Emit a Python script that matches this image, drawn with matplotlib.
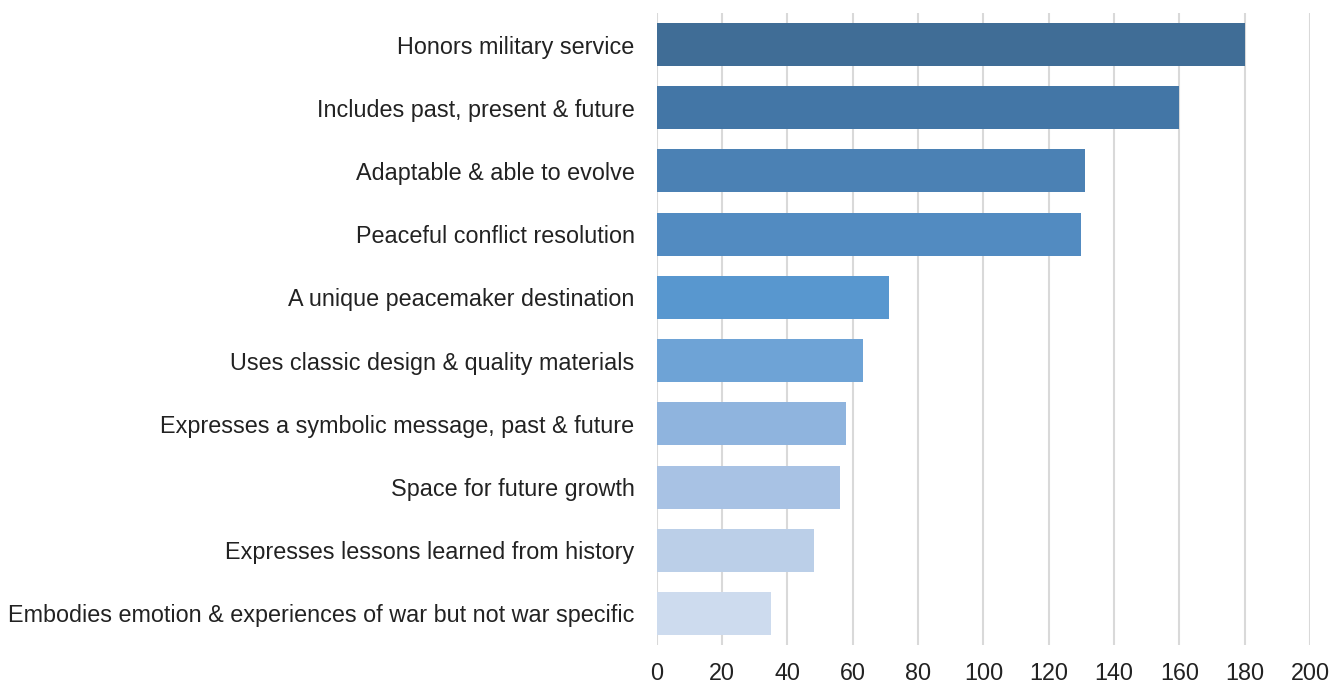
import matplotlib.pyplot as plt
import numpy as np

plt.rcParams['font.family'] = ['Liberation Sans', 'DejaVu Sans']

categories = [
    'Honors military service',
    'Includes past, present & future',
    'Adaptable & able to evolve',
    'Peaceful conflict resolution',
    'A unique peacemaker destination',
    'Uses classic design & quality materials',
    'Expresses a symbolic message, past & future',
    'Space for future growth',
    'Expresses lessons learned from history',
    'Embodies emotion & experiences of war but not war specific',
]
values = [180, 160, 131, 130, 71, 63, 58, 56, 48, 35]
colors = ['#406D96', '#4376A6', '#4B81B4', '#528BC1', '#5897CF',
          '#6EA3D6', '#8FB4DE', '#A8C2E4', '#BBCFE8', '#CDDBEE']
xticks = [0, 20, 40, 60, 80, 100, 120, 140, 160, 180, 200]

fig = plt.figure(figsize=(13.43, 6.83), dpi=100)
ax = fig.add_axes([0.489, 0.0556, 0.4865, 0.9254])

y = np.arange(len(categories))
ax.barh(y, values, height=0.68, color=colors, zorder=3)

ax.set_xlim(0, 200)
ax.set_ylim(len(categories) - 0.5, -0.5)
ax.set_xticks(xticks)
ax.set_yticks(y)
ax.set_yticklabels(categories)
ax.xaxis.grid(True, color='#D9D9D9', linewidth=1.5, zorder=0)
ax.tick_params(axis='both', length=0, labelsize=16.8, colors='#222222')
ax.tick_params(axis='y', pad=16)
ax.tick_params(axis='x', pad=12)
for s in ax.spines.values():
    s.set_visible(False)

plt.savefig('out.png')
